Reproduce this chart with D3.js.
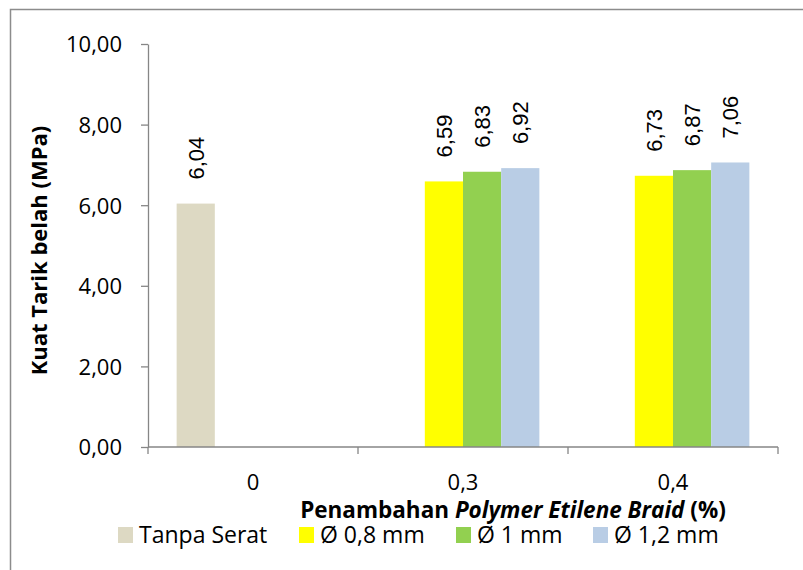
<!DOCTYPE html>
<html>
<head>
<meta charset="utf-8">
<script src="https://cdn.jsdelivr.net/npm/d3@7"></script>
<style>
  html, body { margin: 0; padding: 0; background: #fff; }
  svg { display: block; }
</style>
</head>
<body>
<script>
// Split tensile strength by fibre addition and fibre diameter
const categories = ["0", "0,3", "0,4"];
const seriesNames = ["Tanpa Serat", "Ø 0,8 mm", "Ø 1 mm", "Ø 1,2 mm"];
const tanpaSerat = [6.04, null, null];
const d08 = [null, 6.59, 6.73];
const d10 = [null, 6.83, 6.87];
const d12 = [null, 6.92, 7.06];
const yTicks = [0, 2, 4, 6, 8, 10];
const colors = ["#DDD9C3", "#FFFF00", "#92D050", "#B9CDE5"];

const seriesValues = [tanpaSerat, d08, d10, d12];

const W = 803, H = 570;
const margin = { left: 148, right: 25, top: 44, bottom: 123 };
const plotW = W - margin.left - margin.right;
const plotH = H - margin.top - margin.bottom;
const FONT = "'Open Sans', 'Noto Sans', sans-serif";

const svg = d3.select("body").append("svg")
  .attr("width", W).attr("height", H);

// outer frame
svg.append("rect")
  .attr("x", 10.5).attr("y", 9.5)
  .attr("width", W).attr("height", H)
  .attr("fill", "none").attr("stroke", "#8c8c8c").attr("stroke-width", 1.5);

const g = svg.append("g").attr("transform", `translate(${margin.left},${margin.top})`);

const x0 = d3.scaleBand().domain(categories).range([0, plotW]).paddingInner(0).paddingOuter(0);
const x1 = d3.scaleBand().domain(seriesNames).range([0, x0.bandwidth()]).paddingInner(0).paddingOuter(0.75);
const y = d3.scaleLinear().domain([0, 10]).range([plotH, 0]);

const fmt = v => d3.format(".2f")(v).replace(".", ",");

// y axis
const yAxis = g.append("g")
  .call(d3.axisLeft(y).tickValues(yTicks).tickFormat(fmt).tickSize(7).tickSizeOuter(0).tickPadding(19));
yAxis.select(".domain").attr("stroke", "#868686").attr("stroke-width", 1.3);
yAxis.selectAll(".tick line").attr("stroke", "#868686").attr("stroke-width", 1.3);
yAxis.selectAll(".tick text")
  .attr("font-family", FONT).attr("font-size", 22).attr("fill", "#000")
  .attr("dy", "0.36em");

// bars
const rows = [];
categories.forEach((c, i) => {
  seriesNames.forEach((s, j) => {
    const v = seriesValues[j][i];
    if (v != null) rows.push({ c, s, v, j });
  });
});

g.selectAll("rect.bar").data(rows).enter().append("rect")
  .attr("class", "bar")
  .attr("x", d => x0(d.c) + x1(d.s))
  .attr("width", x1.bandwidth())
  .attr("y", d => y(d.v))
  .attr("height", d => plotH - y(d.v))
  .attr("fill", d => colors[d.j]);

// value labels, rotated
g.selectAll("text.val").data(rows).enter().append("text")
  .attr("class", "val")
  .attr("transform", d => `translate(${x0(d.c) + x1(d.s) + x1.bandwidth() / 2 + 8},${y(d.v) - 24}) rotate(-90)`)
  .attr("text-anchor", "start")
  .attr("font-family", "'Liberation Sans', Arial, sans-serif")
  .attr("font-size", 22)
  .attr("fill", "#000")
  .text(d => fmt(d.v));

// x axis
const xAxisG = g.append("g").attr("transform", `translate(0,${plotH})`);
xAxisG.append("line").attr("x1", 0).attr("x2", plotW).attr("y1", 0).attr("y2", 0)
  .attr("stroke", "#868686").attr("stroke-width", 1.3);
const bounds = d3.range(categories.length + 1).map(i => i * x0.step());
xAxisG.selectAll("line.tk").data(bounds).enter().append("line")
  .attr("x1", d => d).attr("x2", d => d).attr("y1", 0).attr("y2", 7)
  .attr("stroke", "#868686").attr("stroke-width", 1.3);
xAxisG.selectAll("text.cat").data(categories).enter().append("text")
  .attr("x", d => x0(d) + x0.bandwidth() / 2)
  .attr("y", 43)
  .attr("text-anchor", "middle")
  .attr("font-family", FONT).attr("font-size", 22).attr("fill", "#000")
  .text(d => d);

// x title
const xt = svg.append("text")
  .attr("x", 513).attr("y", 518)
  .attr("text-anchor", "middle")
  .attr("font-family", FONT).attr("font-size", 22.5)
  .attr("font-weight", "bold").attr("fill", "#000");
xt.append("tspan").text("Penambahan ");
xt.append("tspan").attr("font-style", "italic").text("Polymer Etilene Braid");
xt.append("tspan").text(" (%)");

// y title
svg.append("text")
  .attr("transform", `translate(47,${margin.top + plotH / 2 + 5}) rotate(-90)`)
  .attr("text-anchor", "middle")
  .attr("font-family", FONT).attr("font-size", 22)
  .attr("font-weight", "bold").attr("fill", "#000")
  .text("Kuat Tarik belah (MPa)");

// legend
const legendX = [118, 299, 456, 593];
const lg = svg.append("g");
seriesNames.forEach((s, j) => {
  lg.append("rect").attr("x", legendX[j]).attr("y", 527).attr("width", 15).attr("height", 16).attr("fill", colors[j]);
  lg.append("text").attr("x", legendX[j] + 21).attr("y", 543)
    .attr("font-family", FONT).attr("font-size", 23).attr("fill", "#000")
    .text(s);
});
</script>
</body>
</html>
